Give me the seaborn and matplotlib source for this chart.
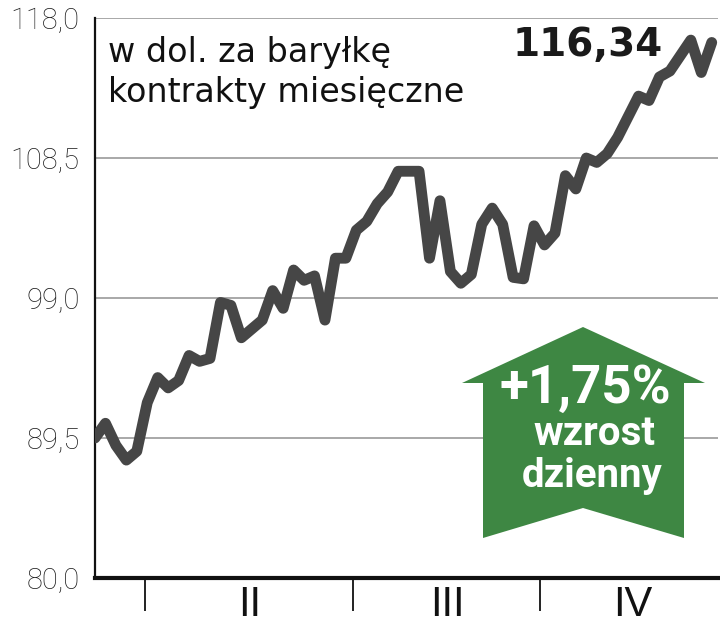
import matplotlib
matplotlib.use("Agg")
import matplotlib.pyplot as plt
import seaborn as sns
import pandas as pd
from matplotlib.patches import Polygon

# ---- data ----
days = [0, 1, 2, 3, 4, 5, 6, 7, 8, 9, 10, 11, 12, 13, 14, 15, 16, 17, 18, 19,
        20, 21, 22, 23, 24, 25, 26, 27, 28, 29, 30, 31, 32, 33, 34, 35, 36, 37,
        38, 39, 40, 41, 42, 43, 44, 45, 46, 47, 48, 49, 50, 52, 53, 54, 55, 57,
        58, 59]
prices = [89.5, 90.5, 89.0, 88.0, 88.6, 91.9, 93.6, 92.9, 93.4, 95.1, 94.7,
          94.9, 98.7, 98.5, 96.3, 96.9, 97.5, 99.5, 98.3, 100.9, 100.2, 100.5,
          97.5, 101.7, 101.7, 103.6, 104.2, 105.4, 106.2, 107.6, 107.6, 107.6,
          101.7, 105.6, 100.8, 100.0, 100.6, 104.0, 105.1, 104.0, 100.4, 100.3,
          103.9, 102.6, 103.4, 107.3, 106.4, 108.5, 108.2, 108.8, 109.9, 112.7,
          112.4, 114.0, 114.4, 116.5, 114.3, 116.34]
y_ticks = [80.0, 89.5, 99.0, 108.5, 118.0]
y_tick_labels = ["80,0", "89,5", "99,0", "108,5", "118,0"]
month_bounds = [4.8, 24.7, 42.6]
month_centers = [14.8, 33.7, 51.4]
month_labels = ["II", "III", "IV"]
title_lines = ["w dol. za baryłkę", "kontrakty miesięczne"]
last_value_label = "116,34"
change_label = "+1,75%"
change_text = ["wzrost", "dzienny"]

df = pd.DataFrame({"day": days, "price": prices})

sns.set_style("white")
plt.rcParams["font.family"] = ["Roboto", "DejaVu Sans"]

W, H = 720, 630
fig = plt.figure(figsize=(W / 100, H / 100), dpi=100)
ax = fig.add_axes([95 / W, 1 - 578 / H, (718 - 95) / W, (578 - 18) / H])

sns.lineplot(data=df, x="day", y="price", ax=ax, color="#464646",
             linewidth=7.8, zorder=3)

ax.set_xlim(0, 59.6)
ax.set_ylim(80, 118)
ax.set_xlabel("")
ax.set_ylabel("")

ax.set_yticks(y_ticks)
ax.set_yticklabels(y_tick_labels, fontsize=21, color="#1e1e1e",
                   fontweight="light")
ax.tick_params(axis="y", length=0, pad=11)

ax.set_xticks(month_bounds)
ax.set_xticklabels([])
ax.set_xticks(month_centers, minor=True)
ax.set_xticklabels(month_labels, minor=True, fontsize=30, color="#111111",
                   fontfamily=["Liberation Sans Narrow", "Liberation Sans", "DejaVu Sans"])
ax.tick_params(axis="x", which="major", bottom=True, length=24, width=1.3,
               color="#111111", direction="out")
ax.tick_params(axis="x", which="minor", bottom=True, length=0, pad=5)

ax.grid(axis="y", color="#9a9a9a", linewidth=1.2)
ax.grid(axis="x", visible=False)
for s in ["top", "right"]:
    ax.spines[s].set_visible(False)
ax.spines["left"].set_color("#111111")
ax.spines["left"].set_linewidth(1.6)
ax.spines["bottom"].set_color("#111111")
ax.spines["bottom"].set_linewidth(3.0)
ax.spines["bottom"].set_zorder(4)


def fp(x, y):
    return (x / W, 1 - y / H)


fig.text(*fp(108, 62), title_lines[0], fontsize=24,
         color="#111111", ha="left", va="baseline", fontfamily=["DejaVu Sans"])
fig.text(*fp(108, 102), title_lines[1], fontsize=24,
         color="#111111", ha="left", va="baseline", fontfamily=["DejaVu Sans"])
fig.text(*fp(663, 56), last_value_label, fontsize=28, fontweight="bold",
         color="#1a1a1a", ha="right", va="baseline",
         fontfamily=["DejaVu Sans"])

arrow_pts = [fp(583, 327), fp(705, 383), fp(684, 383), fp(684, 538),
             fp(583, 508), fp(483, 538), fp(483, 383), fp(462, 383)]
arrow = Polygon(arrow_pts, closed=True, transform=fig.transFigure,
                facecolor="#3e8743", edgecolor="none", zorder=6)
fig.patches.append(arrow)

fig.text(*fp(585, 403), change_label, fontsize=38, fontweight="bold",
         color="white", ha="center", va="baseline", zorder=7)
fig.text(*fp(594, 445), change_text[0], fontsize=29, fontweight="bold",
         color="white", ha="center", va="baseline", zorder=7)
fig.text(*fp(592, 487), change_text[1], fontsize=29, fontweight="bold",
         color="white", ha="center", va="baseline", zorder=7)

fig.savefig("out.png", dpi=100)
